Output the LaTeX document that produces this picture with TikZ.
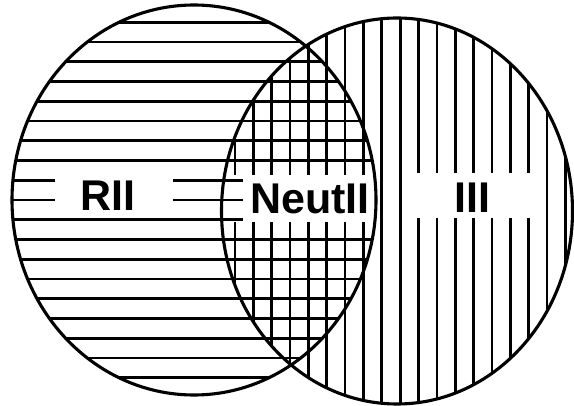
\documentclass[tikz,border=0pt]{standalone}
\usepackage{fontspec}
\setmainfont{Liberation Sans}
\begin{document}
\begin{tikzpicture}[x=1pt,y=-1pt,
  hatch/.style={line width=2.7pt},
  outline/.style={line width=3.1pt},
  lbl/.style={font=\fontsize{43}{43}\selectfont\bfseries, inner sep=0pt, anchor=base}]
\useasboundingbox (0,0) rectangle (574,406);
% horizontal hatching in left ellipse
\begin{scope}
  \clip (194,200) ellipse [x radius=182, y radius=195];
  \foreach \k in {-9,...,9} {
    \pgfmathsetmacro\yy{200+19.75*\k}
    \ifnum\k<-1
      \draw[hatch] (0,\yy) -- (574,\yy);
    \else\ifnum\k>1
      \draw[hatch] (0,\yy) -- (574,\yy);
    \else\ifnum\k=1
      \draw[hatch] (0,\yy) -- (243,\yy);
    \else
      \draw[hatch] (0,\yy) -- (55,\yy);
      \draw[hatch] (173,\yy) -- (243,\yy);
    \fi\fi\fi
  }
\end{scope}
% vertical hatching in right ellipse
\begin{scope}
  \clip (397,211) ellipse [x radius=175.5, y radius=193];
  \foreach \j in {0,...,18} {
    \pgfmathsetmacro\xx{235+18.35*\j}
    \ifnum\j<8
      \draw[hatch] (\xx,0) -- (\xx,175);
      \draw[hatch] (\xx,222) -- (\xx,406);
    \else\ifnum\j<10
      \draw[hatch] (\xx,0) -- (\xx,406);
    \else\ifnum\j<17
      \draw[hatch] (\xx,0) -- (\xx,173);
      \draw[hatch] (\xx,218) -- (\xx,406);
    \else
      \draw[hatch] (\xx,0) -- (\xx,406);
    \fi\fi\fi
  }
\end{scope}
% outlines
\draw[outline] (194,200) ellipse [x radius=182, y radius=195];
\draw[outline] (397,211) ellipse [x radius=175.5, y radius=193];
% labels
\node[lbl] (rii) at (108,211) {RII};
\node[lbl] (neut) at (310,214) {NeutII};
\node[lbl] (iii) at (472.5,213) {III};
\end{tikzpicture}
\end{document}
